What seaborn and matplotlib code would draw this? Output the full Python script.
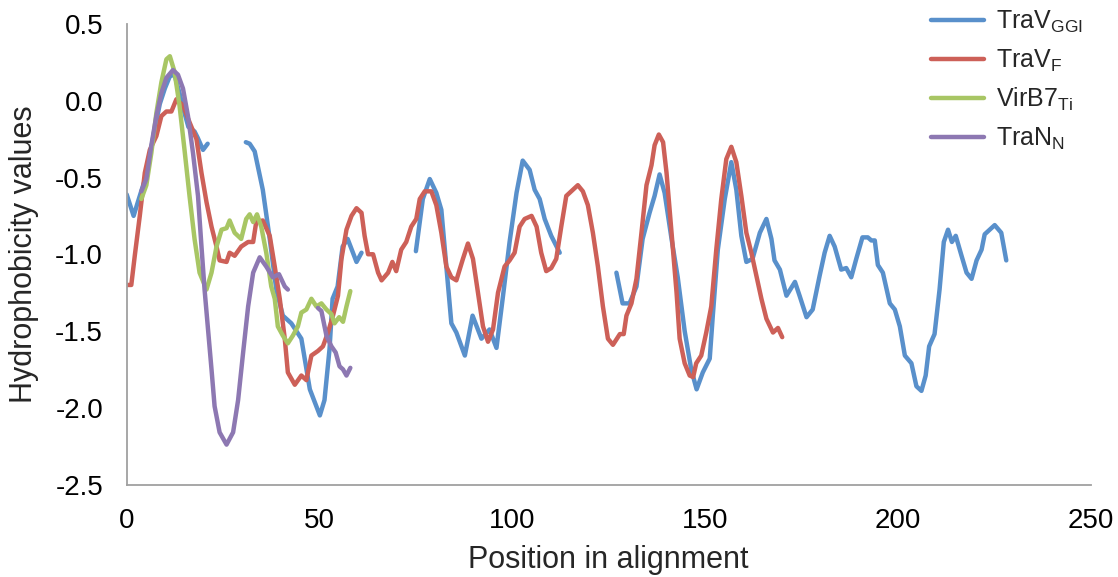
import numpy as np
import pandas as pd
import matplotlib
matplotlib.use("Agg")
import matplotlib.pyplot as plt
import seaborn as sns

nan = float("nan")

# ---- data (NaN marks a gap in the alignment) ----
travggi_x = [0, 1.8, 2.9, 4.9, 6.0, 7.3, 8.6, 9.9, 11.2, 12.4, 13.7, 15.0, 16.0, 17.6, 18.4, 19.8, 21.0, nan,
             30.9, 31.9, 33.2, 35.3, 37.1, 38.8, 40.5, 42.7, 45.3, 47.5, 50.1, 51.3, 52.6, 53.4, 54.7, 56.0, 57.3, 59.6, 60.9, nan,
             75.0, 76.8, 78.6, 80.3, 81.6, 82.9, 84.2, 85.5, 87.7, 89.7, 92.0, 94.1, 95.9, 97.5, 99.3, 101.1, 102.7, 104.5,
             105.8, 107.1, 108.4, 110.1, 112.3, nan,
             127.0, 128.6, 130.4, 132.2, 133.8, 135.6, 136.9, 138.2, 139.5, 141.3, 142.9, 144.7, 146.4, 147.8, 149.4, 151.2,
             152.0, 153.3, 155.1, 156.8, 158.1, 159.4, 160.7, 162.3, 164.2, 165.9, 167.2, 168.0, 169.4, 171.1, 173.3, 174.5,
             176.3, 177.9, 179.7, 181.0, 182.3, 183.6, 185.3, 186.6, 187.9, 189.2, 190.8, 192.2, 193.1, 194.0, 194.8, 196.1,
             197.9, 199.2, 200.5, 201.8, 203.5, 204.8, 206.1, 207.2, 208.1, 209.5, 210.8, 211.9, 213.0, 214.0, 215.0, 216.5,
             217.8, 219.1, 220.4, 221.7, 222.5, 223.8, 225.1, 226.8, 228.1]
travggi_y = [-0.61, -0.75, -0.66, -0.50, -0.36, -0.18, -0.02, 0.08, 0.16, 0.17, 0.05, -0.08, -0.17, -0.20, -0.24, -0.32, -0.28, nan,
             -0.27, -0.28, -0.33, -0.58, -0.90, -1.23, -1.40, -1.45, -1.55, -1.88, -2.05, -1.95, -1.62, -1.29, -1.21, -0.95, -0.90, -1.05, -0.99, nan,
             -0.98, -0.64, -0.51, -0.60, -0.71, -1.08, -1.45, -1.51, -1.66, -1.40, -1.55, -1.49, -1.61, -1.29, -0.92, -0.60, -0.39, -0.45,
             -0.58, -0.64, -0.77, -0.88, -0.99, nan,
             -1.12, -1.32, -1.32, -1.21, -0.90, -0.73, -0.62, -0.48, -0.60, -0.90, -1.15, -1.50, -1.75, -1.88, -1.77, -1.68,
             -1.40, -0.97, -0.64, -0.40, -0.58, -0.88, -1.05, -1.03, -0.86, -0.77, -0.90, -1.04, -1.10, -1.27, -1.18, -1.27,
             -1.41, -1.36, -1.14, -0.99, -0.88, -0.95, -1.10, -1.09, -1.15, -1.03, -0.89, -0.89, -0.91, -0.91, -1.07, -1.12,
             -1.32, -1.36, -1.47, -1.66, -1.71, -1.86, -1.89, -1.79, -1.60, -1.52, -1.23, -0.92, -0.84, -0.92, -0.88, -1.01,
             -1.12, -1.16, -1.04, -0.97, -0.87, -0.84, -0.81, -0.86, -1.04]

travf_x = [0.1, 1.2, 2.1, 3.4, 4.7, 6.0, 7.7, 9.0, 10.3, 11.6, 12.9, 14.6, 16.3, 18.1, 19.4, 20.7, 22.0, 23.3, 24.1, 25.9,
           26.7, 28.0, 29.7, 31.5, 32.8, 33.6, 35.3, 37.1, 38.4, 39.7, 41.0, 41.8, 43.6, 45.3, 46.6, 47.9, 49.6, 50.9, 52.2,
           53.5, 54.8, 55.7, 57.0, 58.3, 59.6, 60.9, 61.7, 62.6, 63.9, 65.2, 66.1, 67.8, 68.9, 69.9, 71.2, 72.5, 73.8, 75.1,
           76.0, 77.3, 79.0, 80.3, 81.6, 82.9, 84.2, 85.5, 87.2, 88.5, 89.8, 91.1, 92.4, 93.7, 95.0, 96.3, 98.0, 99.3, 100.6,
           101.9, 103.2, 105.0, 106.3, 107.5, 108.8, 110.1, 111.4, 112.7, 114.0, 115.7, 117.0, 118.3, 119.6, 120.9, 122.2,
           123.5, 124.8, 126.1, 127.9, 128.9, 129.6, 130.9, 132.2, 133.5, 134.8, 136.1, 136.9, 138.0, 139.1, 140.0, 141.3,
           142.6, 143.4, 144.7, 146.0, 146.9, 147.7, 149.0, 150.3, 151.6, 152.9, 154.2, 155.5, 156.8, 158.1, 159.4, 160.7,
           162.0, 163.3, 164.6, 165.9, 167.6, 168.9, 170.0]
travf_y = [-1.20, -1.20, -1.01, -0.75, -0.47, -0.32, -0.23, -0.10, -0.07, -0.07, 0.01, -0.03, -0.14, -0.25, -0.47, -0.66,
           -0.82, -0.95, -1.04, -1.05, -0.99, -1.01, -0.95, -0.92, -0.92, -0.79, -0.78, -0.88, -1.08, -1.29, -1.55, -1.77,
           -1.85, -1.79, -1.82, -1.66, -1.63, -1.60, -1.51, -1.40, -1.27, -1.03, -0.84, -0.75, -0.70, -0.73, -0.88, -1.00,
           -1.00, -1.12, -1.17, -1.12, -1.05, -1.11, -0.97, -0.92, -0.82, -0.77, -0.64, -0.59, -0.59, -0.68, -0.86, -1.08,
           -1.15, -1.17, -1.03, -0.93, -1.03, -1.25, -1.47, -1.57, -1.49, -1.25, -1.08, -1.04, -0.99, -0.82, -0.77, -0.75,
           -0.82, -0.99, -1.11, -1.09, -1.03, -0.82, -0.62, -0.58, -0.55, -0.59, -0.68, -0.86, -1.08, -1.34, -1.55, -1.59,
           -1.52, -1.52, -1.40, -1.32, -1.16, -0.86, -0.55, -0.42, -0.29, -0.22, -0.27, -0.47, -0.86, -1.25, -1.55, -1.71,
           -1.79, -1.80, -1.71, -1.66, -1.51, -1.34, -0.97, -0.64, -0.38, -0.30, -0.40, -0.62, -0.86, -0.99, -1.14, -1.29,
           -1.42, -1.51, -1.48, -1.54]

virb7_x = [3.8, 5.1, 6.4, 7.7, 9.0, 10.3, 11.2, 12.4, 13.7, 15.0, 16.3, 17.6, 18.9, 20.7, 22.0, 23.3, 24.6, 25.9, 26.7,
           28.0, 29.7, 31.0, 31.9, 32.8, 33.8, 34.9, 36.2, 37.5, 38.4, 39.2, 40.5, 41.8, 43.1, 44.4, 45.3, 46.6, 47.9, 49.2,
           50.5, 51.8, 53.1, 53.9, 55.1, 56.1, 57.0, 58.0]
virb7_y = [-0.64, -0.55, -0.34, -0.08, 0.12, 0.27, 0.29, 0.19, -0.03, -0.32, -0.62, -0.90, -1.12, -1.23, -1.12, -0.95,
           -0.84, -0.83, -0.78, -0.86, -0.90, -0.77, -0.74, -0.79, -0.74, -0.82, -0.99, -1.21, -1.29, -1.47, -1.53, -1.58,
           -1.53, -1.47, -1.38, -1.36, -1.29, -1.34, -1.32, -1.36, -1.39, -1.45, -1.41, -1.44, -1.34, -1.24]

tran_x = [3.8, 5.1, 6.4, 7.7, 9.0, 10.3, 12.0, 13.3, 14.6, 15.9, 17.2, 18.5, 19.4, 20.2, 21.1, 22.0, 22.8, 24.1, 25.9,
          27.6, 28.9, 30.2, 31.5, 32.8, 34.5, 36.2, 37.9, 39.5, 41.0, 41.8, nan,
          49.6, 50.5, 51.8, 53.1, 54.2, 55.2, 56.1, 57.0, 58.0]
tran_y = [-0.59, -0.51, -0.29, -0.10, 0.05, 0.15, 0.20, 0.17, 0.08, -0.10, -0.34, -0.62, -0.95, -1.23, -1.49, -1.75,
          -1.99, -2.16, -2.24, -2.16, -1.95, -1.64, -1.34, -1.12, -1.02, -1.08, -1.15, -1.13, -1.21, -1.23, nan,
          -1.35, -1.37, -1.53, -1.60, -1.64, -1.73, -1.75, -1.79, -1.74]

series_names = [r"TraV$_{\mathregular{GGI}}$", r"TraV$_{\mathregular{F}}$",
                r"VirB7$_{\mathregular{Ti}}$", r"TraN$_{\mathregular{N}}$"]
series_x = [travggi_x, travf_x, virb7_x, tran_x]
series_y = [travggi_y, travf_y, virb7_y, tran_y]
colors = ["#5990CB", "#CD6058", "#A8C664", "#8D78B2"]

x_ticks = [0, 50, 100, 150, 200, 250]
y_ticks = [0.5, 0.0, -0.5, -1.0, -1.5, -2.0, -2.5]

# ---- build long table ----
frames = []
for name, xs, ys in zip(series_names, series_x, series_y):
    d = pd.DataFrame({"x": xs, "y": ys})
    d["seg"] = d["y"].isna().cumsum()
    d = d.dropna()
    d["series"] = name
    d["unit"] = name + "_" + d["seg"].astype(str)
    frames.append(d)
df = pd.concat(frames, ignore_index=True)

sns.set_style("white")
plt.rcParams["font.family"] = ["Liberation Sans", "DejaVu Sans"]
plt.rcParams["mathtext.default"] = "regular"
plt.rcParams["axes.unicode_minus"] = False

fig = plt.figure(figsize=(11.18, 5.77), dpi=100)
ax = fig.add_axes([0.1133, 0.1603, 0.9756 - 0.1133, 0.9584 - 0.1603])

sns.lineplot(data=df, x="x", y="y", hue="series", units="unit", estimator=None,
             hue_order=series_names, palette=colors, sort=False, linewidth=3.2,
             ax=ax, legend=True)
for ln in ax.lines:
    ln.set_solid_capstyle("round")
    ln.set_solid_joinstyle("round")

ax.set_xlim(0, 250)
ax.set_ylim(-2.5, 0.5)
ax.set_xticks(x_ticks)
ax.set_xticklabels([str(t) for t in x_ticks])
ax.set_yticks(y_ticks)
ax.set_yticklabels([f"{t:.1f}" for t in y_ticks])
ax.set_xlabel("Position in alignment", fontsize=22, labelpad=8)
ax.set_ylabel("Hydrophobicity values", fontsize=22, labelpad=12)

for side in ["top", "right"]:
    ax.spines[side].set_visible(False)
for side in ["left", "bottom"]:
    ax.spines[side].set_color("#A0A0A0")
    ax.spines[side].set_linewidth(1.3)
ax.tick_params(axis="both", direction="out", length=6, width=1.3, color="#A0A0A0",
               labelsize=20, labelcolor="black", pad=11)

handles, labels = ax.get_legend_handles_labels()
leg = ax.legend(handles, labels, loc="upper left", bbox_to_anchor=(0.833, 0.985),
                bbox_transform=fig.transFigure, frameon=False, fontsize=18,
                handlelength=2.12, handletextpad=0.48, labelspacing=0.5,
                borderpad=0, borderaxespad=0)
for h in leg.legend_handles:
    h.set_linewidth(3.2)
    h.set_solid_capstyle("round")

fig.savefig("out.png", dpi=100)
